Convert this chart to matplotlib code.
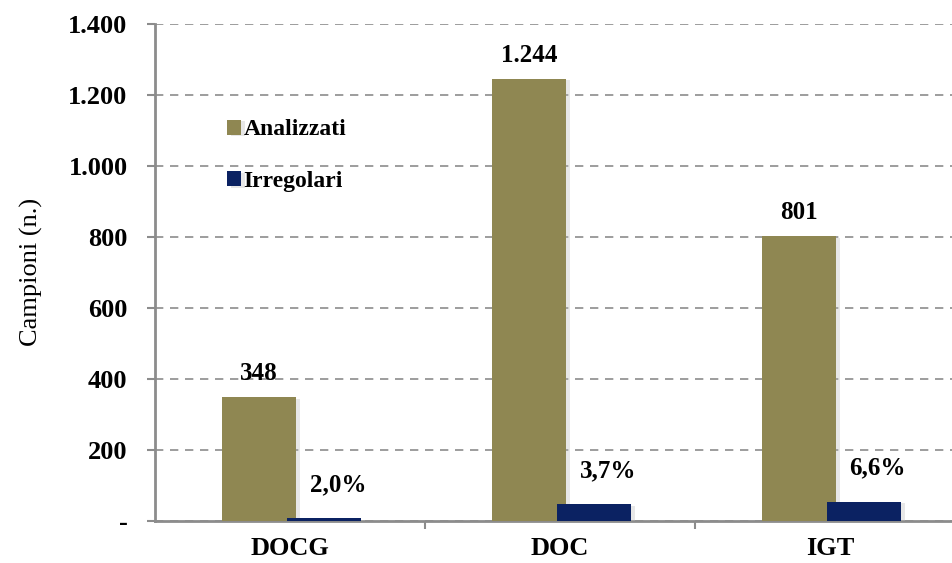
import numpy as np
import matplotlib.pyplot as plt
from matplotlib.ticker import FuncFormatter, FixedLocator
import matplotlib.patheffects as pe

categories = ["DOCG", "DOC", "IGT"]
analizzati = [348, 1244, 801]
irregolari = [7, 46, 53]
analizzati_labels = ["348", "1.244", "801"]
irregolari_labels = ["2,0%", "3,7%", "6,6%"]

olive = "#8f8752"
navy = "#0b2262"
grey = "#8c8c8c"

plt.rcParams['font.family'] = ['Liberation Serif', 'DejaVu Serif']

fig = plt.figure(figsize=(9.53, 5.63), dpi=100)
ax = fig.add_axes([0.163, 0.075, 0.837, 0.883])

x = np.arange(len(categories))
w = 0.275
shadow = [pe.SimplePatchShadow(offset=(3, -1), shadow_rgbFace="#b0b0b0", alpha=0.3), pe.Normal()]
ax.bar(x - 0.115, analizzati, w, color=olive, label="Analizzati", zorder=3, path_effects=shadow)
ax.bar(x + 0.125, irregolari, w, color=navy, label="Irregolari", zorder=4, path_effects=shadow)

for xi, v, t in zip(x, analizzati, analizzati_labels):
    ax.annotate(t, (xi - 0.115, v), xytext=(0, 9), textcoords="offset points",
                ha="center", va="bottom", fontsize=18, fontweight="bold")
for xi, v, t in zip(x, irregolari, irregolari_labels):
    ax.annotate(t, (xi + 0.125, v), xytext=(10, 16), textcoords="offset points",
                ha="center", va="bottom", fontsize=18, fontweight="bold")

ax.set_ylim(0, 1400)
ax.set_xlim(-0.5, 2.456)
ax.set_yticks(np.arange(0, 1401, 200))
ax.yaxis.set_major_formatter(FuncFormatter(lambda v, p: "-" if v == 0 else f"{int(v):,}".replace(",", ".")))
ax.set_xticks(x)
ax.set_xticklabels(categories)
ax.xaxis.set_minor_locator(FixedLocator([0.5, 1.5]))
ax.tick_params(axis="x", which="major", length=0, pad=12, labelsize=19)
ax.tick_params(axis="x", which="minor", length=6, width=1.5, color=grey)
ax.tick_params(axis="y", length=6, width=1.5, color=grey, labelsize=19, pad=14)
for lab in ax.get_xticklabels() + ax.get_yticklabels():
    lab.set_fontweight("bold")

ax.yaxis.grid(True, linestyle=(0, (5, 4)), color=grey, linewidth=1.2, zorder=0)
ax.set_axisbelow(True)
for s in ["top", "right"]:
    ax.spines[s].set_visible(False)
ax.spines["left"].set_color(grey)
ax.spines["left"].set_linewidth(2)
ax.spines["bottom"].set_color(grey)
ax.spines["bottom"].set_linewidth(2)

ax.set_ylabel("Campioni (n.)", fontsize=19, labelpad=18)

ax.legend(loc="upper left", bbox_to_anchor=(0.063, 0.85), frameon=False,
          handlelength=0.6, handleheight=0.6, handletextpad=0.1, labelspacing=1.3,
          prop={"size": 17, "weight": "bold"})

fig.savefig("out.png", dpi=100)
